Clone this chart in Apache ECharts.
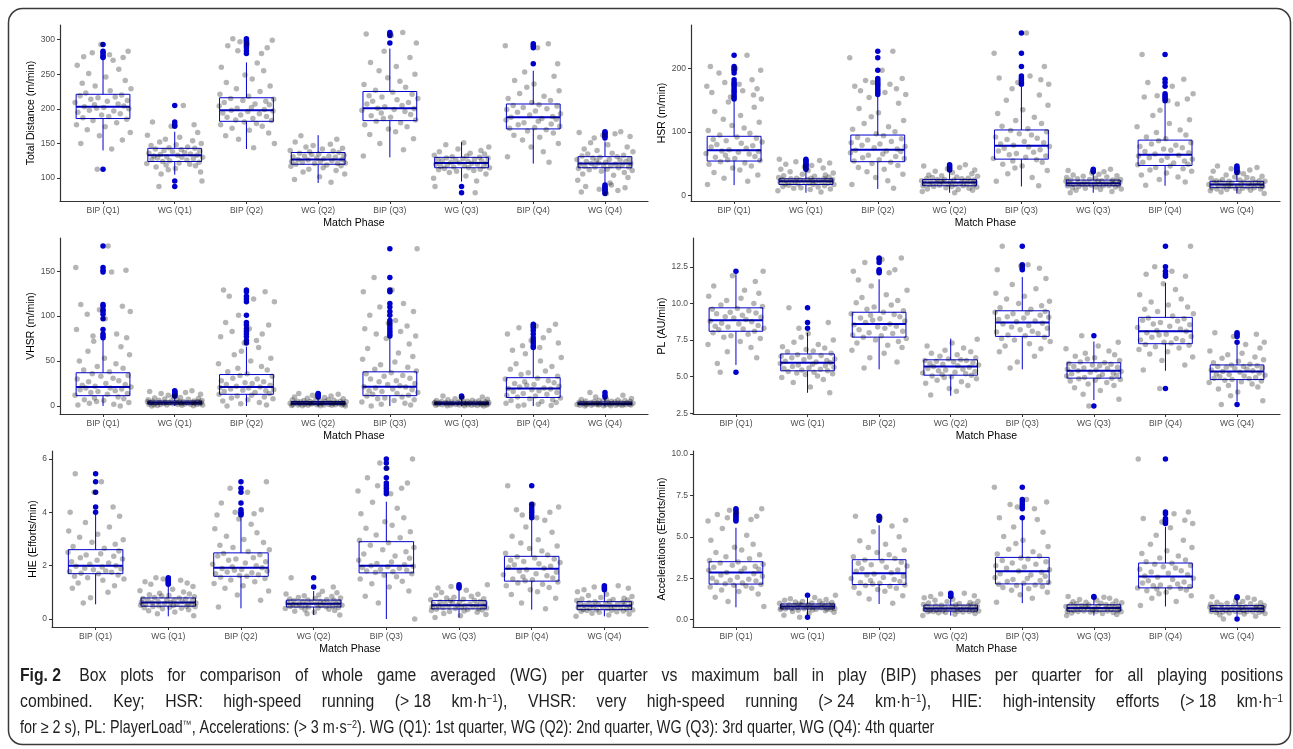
<!DOCTYPE html>
<html><head><meta charset="utf-8">
<script src="https://cdn.jsdelivr.net/npm/echarts@6/dist/echarts.min.js"></script>
<style>html,body{margin:0;padding:0;background:#fff}#c{width:1293px;height:749px}</style>
</head><body><div id="c"></div>
<script>
const cats = ['BIP (Q1)','WG (Q1)','BIP (Q2)','WG (Q2)','BIP (Q3)','WG (Q3)','BIP (Q4)','WG (Q4)'];
const jitter = [0.12,-0.31,0.27,-0.05,0.38,-0.22,0.03,-0.37,0.19,-0.14,0.33,-0.28,0.08,-0.02,0.24,-0.35,0.15,-0.19,0.36,-0.09,0.01,-0.26,0.29,-0.12,0.21,-0.39,0.06,0.34,-0.17,-0.07,0.17,-0.32,0.26,-0.24,0.10,0.39,-0.11,-0.29,0.31,0.04,-0.20,0.22,-0.36,0.14,-0.03,0.35,-0.15,0.09,-0.27,0.28,-0.08,0.18,-0.33,0.02,0.37,-0.21,0.25,-0.13,0.07,-0.38,0.32];

// Total distance (m/min): [lower whisker, Q1, median, Q3, upper whisker]
const tdBox = [[140,186,203,221,272],[105,124,133,143,167],[142,182,198,216,267],[93,120,127,137,162],[130,183,201,225,287],[95,115,122,130,152],[121,171,188,207,255],[93,115,121,131,153]];
const tdOut = [[293,283,281,278,275,274,113],[205,181,177,175,96,88],[301,299,297,294,291,288,284,280],[],[310,308,306,295],[88,79],[294,291,288,265],[167,166,164,162,160,158,90,88,86,84,82,80,78]];
const tdPts = [
[142,150,155,161,166,170,174,177,180,183,185,187,189,191,193,195,197,198,200,201,202,203,204,206,207,209,211,212,214,216,217,219,220,223,226,229,233,237,241,246,251,257,263,270],
[106,109,112,114,116,118,119,120,121,122,123,124,125,126,127,128,129,130,130,131,132,133,133,134,135,136,137,138,139,140,141,142,143,144,145,147,148,150,152,154,156,159,162,166],
[144,150,156,161,165,169,172,175,177,179,181,183,184,186,188,189,191,193,194,196,197,198,199,201,202,204,206,207,209,211,212,214,215,218,221,225,229,233,238,243,249,255,260,266],
[94,98,102,106,109,111,113,115,117,118,119,120,121,121,122,123,124,124,125,126,127,127,128,129,130,131,132,132,133,134,135,136,137,138,139,140,142,143,145,147,149,152,156,161],
[132,141,150,157,163,167,171,174,177,180,182,184,186,188,190,192,194,196,198,199,200,201,203,205,207,209,211,213,215,217,219,221,224,227,231,235,240,245,250,255,261,267,274,283],
[96,100,103,106,108,110,111,112,113,114,115,115,116,117,117,118,119,120,120,121,122,122,123,124,125,125,126,127,127,128,129,129,130,131,132,133,135,136,138,140,142,145,148,151],
[123,131,138,145,150,155,159,162,165,168,170,172,173,175,177,178,180,182,184,185,186,188,189,191,193,195,197,199,200,202,204,205,206,209,212,215,218,222,226,231,236,241,247,253],
[93,97,101,104,106,108,110,111,112,113,114,115,116,116,117,118,118,119,120,120,121,121,122,123,124,124,125,126,127,127,128,129,130,131,132,133,135,136,138,140,142,145,148,151]];

// HSR (m/min)
const hsrBox = [[16,54,71,93,150],[4,17,22,26,40],[10,53,72,95,157],[4,15,20,25,38],[14,57,78,103,171],[4,15,19,24,35],[15,47,64,87,147],[3,12,17,22,34]];
const hsrOut = [[221,203,200,197,193,182,178,175,172,168,165,162,158,155,152],[57,55,53,51,49,47,45,43,41],[227,217,197,184,181,178,175,172,168,165,162,159],[48,46,44,42,40],[256,224,203,188,185,182,178,175],[41,39,37],[222,183,178,172,160,157,155,152,149],[46,44,42,40,38,36]];
const hsrPts = [
[17,22,27,32,36,40,43,46,49,51,53,55,56,58,60,61,63,65,66,68,69,70,72,74,76,78,80,82,84,86,88,90,92,95,98,102,106,110,115,120,126,132,139,147],
[5,7,9,10,11,12,13,14,15,16,17,17,18,18,19,19,20,20,21,21,22,22,22,23,23,24,24,24,25,25,25,26,26,27,27,28,29,30,31,32,33,35,37,39],
[11,17,23,28,33,37,41,44,47,50,52,54,56,58,59,61,63,65,67,69,70,71,73,75,77,79,81,83,85,87,89,91,94,97,100,104,108,113,118,124,130,137,145,154],
[4,6,8,9,10,11,12,13,14,14,15,15,16,16,17,17,18,18,19,19,20,20,20,21,21,22,22,23,23,24,24,25,25,26,26,27,28,29,30,31,32,34,36,38],
[15,22,28,34,39,43,46,49,52,54,56,58,60,62,64,66,68,70,72,74,76,77,79,81,83,85,88,90,92,95,97,100,102,105,109,113,118,123,129,135,142,150,158,168],
[4,6,8,9,10,11,12,13,13,14,15,15,15,16,16,17,17,17,18,18,19,19,19,20,20,21,21,22,22,23,23,24,24,25,25,26,27,28,29,30,31,32,33,35],
[16,21,25,29,32,35,38,40,42,44,46,48,49,51,52,54,55,57,59,60,62,63,65,67,69,71,73,75,77,79,81,83,86,89,92,95,99,103,108,113,119,126,134,144],
[3,5,6,7,8,9,10,10,11,11,12,12,13,13,14,14,15,15,16,16,17,17,17,18,18,19,19,20,20,21,21,22,22,23,23,24,25,26,27,28,29,30,32,34]];

// VHSR (m/min)
const vhsrBox = [[0,11.5,21,37,74],[0,2,3.5,5.5,10.5],[0,13,21,35,66],[0,1.5,3,5,9.5],[0,11.5,21.5,38,77],[0,1.5,3,4.5,9],[0,9.5,19.5,31.5,63],[0,1.5,2.5,4.5,8.5]];
const vhsrOut = [[178,154,151,149,113,111,107,105,102,97,85,80,78,76],[17,16,15,14,13,12,11],[129,127,122,119,116,101,93,90,86,83,80,77,73,70],[14,13,12,11,10],[175,143,129,127,114,110,105,101,95,92,89,86,83,80,78],[11,10],[91,89,87,84,80,76,73,70,67,65],[15,12,10]];
const vhsrPts = [
[0,1,2,3,4,5,6,7,8,9,10,12,13,14,15,16,17,18,19,20,20,21,22,23,24,25,27,28,30,31,33,34,36,38,40,42,44,47,50,53,57,61,66,72],
[0,0.3,0.5,0.8,1,1.2,1.4,1.6,1.7,1.8,2,2,2.2,2.4,2.5,2.7,2.8,3,3.1,3.3,3.4,3.5,3.6,3.8,4,4.1,4.3,4.5,4.7,4.9,5.1,5.3,5.5,5.7,6,6.3,6.6,7,7.4,7.8,8.3,8.8,9.5,10.3],
[0,1,2.5,4,5.5,7,8,9,10,11,12,13,14,15,16,17,17.5,18,19,20,20.5,21,22,23,24,25,26,27,28,30,31,33,34,36,38,40,42,44,47,50,53,57,61,65],
[0,0.2,0.4,0.6,0.8,0.9,1,1.1,1.2,1.3,1.5,1.5,1.7,1.8,2,2.2,2.3,2.5,2.6,2.8,2.9,3,3.1,3.3,3.5,3.6,3.8,4,4.2,4.4,4.6,4.8,5,5.2,5.4,5.7,6,6.3,6.7,7,7.5,8,8.7,9.4],
[0,1,2,3,4.5,6,7,8,9,10,11,12,13,14,15,16,17,18,19,20,21,21.5,22.5,24,25,27,28,30,31,33,34,36,37,39,41,43,46,49,52,55,59,64,69,75],
[0,0.2,0.4,0.6,0.8,0.9,1,1.1,1.2,1.3,1.5,1.5,1.6,1.8,1.9,2.1,2.2,2.4,2.5,2.7,2.8,3,3.1,3.2,3.4,3.5,3.7,3.8,4,4.1,4.2,4.4,4.5,4.7,4.9,5.2,5.5,5.8,6.1,6.5,7,7.5,8.1,8.9],
[0,0.5,1,2,3,4,5,6,7,8,9,10,11,12,13,14,15,16,17,18,19,19.5,20,21,22,23,24,25,26,27,28,30,31,33,35,37,39,41,44,47,50,54,58,62],
[0,0.2,0.4,0.5,0.7,0.8,0.9,1,1.2,1.3,1.5,1.5,1.6,1.7,1.8,1.9,2,2.1,2.2,2.3,2.4,2.5,2.6,2.8,3,3.2,3.4,3.6,3.8,4,4.2,4.3,4.5,4.7,4.9,5.1,5.4,5.7,6,6.4,6.8,7.3,7.8,8.4]];

// PL (AU/min)
const plBox = [[5.8,8.1,8.85,9.7,12.0],[3.9,5.4,5.95,6.55,8.0],[5.5,7.7,8.6,9.4,11.65],[3.7,5.1,5.7,6.15,7.6],[5.5,7.75,8.7,9.5,11.8],[3.4,4.9,5.4,5.95,7.4],[5.4,7.25,8.1,9.05,11.4],[3.3,4.8,5.35,5.8,7.2]];
const plOut = [[12.2,5.3],[9.7,8.7,8.3],[13.1,13.0,12.8,12.3,12.2,12.1],[],[13.9,12.65,12.55,12.4,12.3],[7.8,3.0],[13.9,12.5,12.2,12.0,11.85,4.2],[8.0,7.9,7.75,7.35,3.1]];
const plPts = [
[5.9,6.3,6.7,7.0,7.2,7.4,7.6,7.7,7.8,7.9,8.0,8.1,8.2,8.25,8.3,8.4,8.45,8.5,8.6,8.65,8.75,8.8,8.9,9.0,9.05,9.1,9.2,9.3,9.35,9.4,9.5,9.6,9.65,9.8,9.9,10.0,10.2,10.35,10.5,10.7,10.9,11.2,11.5,11.9],
[3.9,4.3,4.6,4.8,4.95,5.05,5.15,5.2,5.25,5.3,5.35,5.4,5.45,5.5,5.55,5.6,5.65,5.7,5.75,5.8,5.85,5.9,5.95,6.0,6.05,6.1,6.15,6.2,6.3,6.35,6.4,6.45,6.5,6.6,6.7,6.75,6.85,6.95,7.05,7.2,7.35,7.5,7.7,7.95],
[5.6,6.0,6.3,6.6,6.8,7.0,7.15,7.3,7.4,7.5,7.6,7.7,7.8,7.85,7.95,8.0,8.1,8.2,8.3,8.4,8.45,8.55,8.6,8.7,8.8,8.85,8.95,9.0,9.1,9.2,9.25,9.3,9.4,9.5,9.6,9.75,9.9,10.05,10.2,10.4,10.6,10.9,11.2,11.6],
[3.75,4.0,4.2,4.4,4.55,4.65,4.75,4.85,4.95,5.0,5.05,5.1,5.15,5.2,5.25,5.3,5.35,5.4,5.45,5.5,5.55,5.65,5.7,5.75,5.8,5.85,5.9,5.95,6.0,6.05,6.1,6.1,6.15,6.2,6.3,6.4,6.5,6.6,6.7,6.8,6.95,7.1,7.3,7.55],
[5.6,6.0,6.4,6.7,6.9,7.1,7.25,7.4,7.5,7.6,7.7,7.8,7.85,7.95,8.05,8.1,8.2,8.3,8.4,8.5,8.6,8.65,8.75,8.8,8.9,9.0,9.05,9.1,9.2,9.3,9.35,9.4,9.45,9.6,9.7,9.85,10.0,10.15,10.3,10.5,10.7,11.0,11.3,11.7],
[3.45,3.8,4.05,4.25,4.4,4.5,4.6,4.7,4.75,4.8,4.85,4.9,4.95,5.0,5.05,5.1,5.15,5.2,5.25,5.3,5.35,5.4,5.45,5.5,5.55,5.6,5.65,5.7,5.75,5.8,5.85,5.9,5.95,6.0,6.1,6.2,6.3,6.4,6.5,6.6,6.75,6.9,7.1,7.35],
[5.45,5.8,6.1,6.35,6.55,6.7,6.85,6.95,7.05,7.15,7.2,7.3,7.35,7.45,7.5,7.6,7.7,7.75,7.85,7.9,8.0,8.1,8.15,8.25,8.35,8.45,8.55,8.6,8.7,8.8,8.85,8.95,9.0,9.15,9.3,9.45,9.6,9.75,9.9,10.1,10.3,10.6,10.95,11.35],
[3.35,3.7,3.95,4.15,4.3,4.4,4.5,4.6,4.65,4.7,4.75,4.8,4.85,4.9,4.95,5.0,5.05,5.1,5.15,5.2,5.25,5.3,5.35,5.4,5.45,5.5,5.55,5.6,5.65,5.7,5.7,5.75,5.8,5.85,5.95,6.05,6.15,6.25,6.35,6.5,6.6,6.75,6.95,7.2]];

// HIE (Efforts/min)
const hieBox = [[0.55,1.7,2.0,2.6,3.95],[0.1,0.48,0.62,0.79,1.25],[0.4,1.6,1.92,2.48,3.8],[0.15,0.45,0.57,0.71,1.05],[0,1.73,2.0,2.9,4.4],[0.05,0.38,0.52,0.69,1.1],[0.35,1.42,1.88,2.35,3.75],[0.1,0.35,0.5,0.65,1.05]];
const hieOut = [[5.45,5.15,4.75,4.2,4.0],[1.55,1.5,1.45,1.4,1.35,1.3],[5.15,4.9,4.75,4.35,4.1,4.0,3.95,3.9],[1.55,1.2],[6.0,5.85,5.65,5.3,5.1,5.0,4.9,4.8,4.7],[1.28,1.22,1.16],[5.0,4.3,4.2,4.1,4.0,3.9,3.8],[1.25,1.2,1.15,1.1]];
const hiePts = [
[0.6,0.8,1.0,1.15,1.25,1.35,1.45,1.5,1.55,1.6,1.65,1.7,1.72,1.75,1.78,1.8,1.85,1.88,1.9,1.95,1.98,2.0,2.05,2.1,2.15,2.2,2.25,2.3,2.35,2.4,2.45,2.5,2.55,2.65,2.72,2.8,2.88,2.97,3.07,3.18,3.3,3.45,3.62,3.85],
[0.12,0.2,0.26,0.31,0.35,0.38,0.4,0.42,0.44,0.46,0.47,0.48,0.5,0.51,0.52,0.53,0.55,0.56,0.57,0.58,0.6,0.61,0.62,0.63,0.65,0.66,0.68,0.7,0.71,0.73,0.75,0.77,0.79,0.81,0.83,0.86,0.88,0.91,0.94,0.97,1.01,1.06,1.12,1.22],
[0.45,0.7,0.9,1.05,1.15,1.25,1.33,1.4,1.46,1.52,1.57,1.6,1.63,1.66,1.7,1.73,1.76,1.8,1.83,1.86,1.89,1.92,1.96,2.0,2.05,2.1,2.15,2.2,2.25,2.3,2.36,2.41,2.46,2.53,2.6,2.68,2.77,2.87,2.98,3.1,3.23,3.38,3.55,3.75],
[0.15,0.2,0.25,0.29,0.32,0.35,0.37,0.39,0.41,0.43,0.44,0.45,0.46,0.47,0.48,0.5,0.51,0.52,0.53,0.54,0.55,0.56,0.57,0.58,0.6,0.61,0.62,0.64,0.65,0.67,0.68,0.7,0.71,0.73,0.75,0.77,0.79,0.81,0.84,0.87,0.9,0.94,0.98,1.04],
[0.0,0.6,0.85,1.05,1.2,1.32,1.42,1.5,1.58,1.64,1.7,1.74,1.77,1.8,1.83,1.86,1.9,1.93,1.96,1.98,2.0,2.03,2.08,2.14,2.2,2.28,2.36,2.44,2.52,2.6,2.68,2.77,2.86,2.95,3.05,3.15,3.27,3.4,3.52,3.65,3.8,3.95,4.15,4.38],
[0.06,0.12,0.17,0.21,0.25,0.28,0.3,0.32,0.34,0.36,0.37,0.38,0.39,0.41,0.42,0.43,0.45,0.46,0.47,0.49,0.5,0.51,0.52,0.53,0.55,0.56,0.58,0.59,0.61,0.63,0.64,0.66,0.68,0.7,0.72,0.74,0.76,0.79,0.82,0.85,0.89,0.93,0.99,1.08],
[0.38,0.6,0.78,0.92,1.02,1.1,1.18,1.25,1.3,1.35,1.39,1.43,1.47,1.5,1.54,1.58,1.62,1.66,1.7,1.75,1.8,1.85,1.9,1.94,1.98,2.03,2.07,2.12,2.16,2.2,2.25,2.29,2.33,2.4,2.47,2.55,2.64,2.74,2.85,2.97,3.1,3.25,3.45,3.7],
[0.1,0.15,0.19,0.22,0.25,0.27,0.29,0.3,0.32,0.33,0.34,0.35,0.36,0.37,0.39,0.4,0.41,0.43,0.44,0.46,0.47,0.49,0.5,0.51,0.53,0.54,0.56,0.57,0.58,0.6,0.61,0.63,0.65,0.67,0.69,0.71,0.73,0.75,0.78,0.81,0.84,0.88,0.93,1.02]];

// Accelerations (Efforts/min)
const accBox = [[0.75,2.15,2.85,3.5,5.55],[0.25,0.65,0.8,0.95,1.35],[0.95,2.12,2.8,3.62,5.7],[0.25,0.52,0.68,0.88,1.35],[1.0,2.16,2.92,3.76,6.1],[0.25,0.52,0.7,0.9,1.3],[0.8,1.92,2.6,3.42,5.6],[0.2,0.5,0.68,0.85,1.25]];
const accOut = [[6.7,6.6,6.45,6.35,6.25,6.15,6.05,5.95],[1.48,0.15],[6.25,6.15,6.0],[1.6,1.55,1.45,1.4],[8.0,7.25,7.1,6.95,6.8,6.7,6.15],[1.4,1.35],[9.7,6.5,6.4,6.1,6.0,5.9,5.8],[1.38,1.32,0.05]];
const accPts = [
[0.8,1.1,1.35,1.55,1.7,1.8,1.9,1.97,2.03,2.08,2.12,2.17,2.22,2.27,2.33,2.38,2.44,2.5,2.56,2.62,2.7,2.78,2.85,2.92,2.98,3.04,3.1,3.16,3.22,3.28,3.35,3.42,3.48,3.58,3.68,3.8,3.92,4.05,4.2,4.37,4.56,4.8,5.1,5.5],
[0.27,0.37,0.45,0.5,0.54,0.57,0.59,0.61,0.62,0.63,0.64,0.65,0.66,0.67,0.68,0.7,0.71,0.72,0.73,0.75,0.76,0.78,0.8,0.81,0.82,0.84,0.85,0.87,0.88,0.9,0.91,0.93,0.95,0.97,0.99,1.01,1.04,1.07,1.1,1.13,1.17,1.22,1.27,1.34],
[1.0,1.25,1.45,1.6,1.72,1.82,1.9,1.96,2.02,2.06,2.1,2.15,2.2,2.25,2.3,2.36,2.42,2.48,2.55,2.62,2.7,2.76,2.84,2.92,3.0,3.08,3.16,3.24,3.32,3.4,3.47,3.54,3.6,3.7,3.8,3.92,4.05,4.2,4.36,4.55,4.76,5.0,5.3,5.65],
[0.26,0.33,0.38,0.42,0.44,0.46,0.48,0.49,0.5,0.51,0.52,0.53,0.54,0.56,0.57,0.58,0.6,0.61,0.63,0.64,0.66,0.67,0.69,0.7,0.72,0.74,0.76,0.78,0.8,0.82,0.84,0.86,0.87,0.9,0.92,0.95,0.98,1.01,1.04,1.08,1.12,1.17,1.23,1.32],
[1.05,1.3,1.5,1.65,1.77,1.87,1.95,2.01,2.06,2.1,2.14,2.2,2.25,2.3,2.36,2.42,2.48,2.55,2.62,2.7,2.78,2.86,2.94,3.02,3.1,3.18,3.26,3.34,3.42,3.5,3.58,3.66,3.73,3.85,3.97,4.1,4.25,4.42,4.6,4.8,5.02,5.28,5.6,6.05],
[0.26,0.32,0.37,0.41,0.44,0.46,0.48,0.49,0.5,0.51,0.52,0.53,0.55,0.56,0.58,0.59,0.61,0.62,0.64,0.66,0.67,0.69,0.71,0.72,0.74,0.76,0.78,0.8,0.82,0.84,0.86,0.88,0.9,0.92,0.94,0.96,0.99,1.02,1.05,1.09,1.13,1.17,1.22,1.29],
[0.85,1.1,1.3,1.45,1.57,1.66,1.74,1.8,1.85,1.88,1.91,1.95,2.0,2.05,2.1,2.16,2.22,2.28,2.35,2.42,2.5,2.56,2.64,2.72,2.8,2.88,2.96,3.04,3.12,3.2,3.27,3.34,3.4,3.5,3.6,3.72,3.85,4.0,4.16,4.35,4.56,4.8,5.1,5.55],
[0.21,0.28,0.34,0.38,0.41,0.43,0.45,0.46,0.47,0.48,0.49,0.5,0.51,0.53,0.54,0.56,0.57,0.59,0.6,0.62,0.63,0.65,0.67,0.68,0.7,0.72,0.73,0.75,0.77,0.79,0.8,0.82,0.84,0.86,0.88,0.9,0.93,0.96,0.99,1.02,1.06,1.1,1.16,1.24]];

const yTicksTD = [100,150,200,250,300];
const yTicksHSR = [0,100,200];
const yTicksVHSR = [0,50,100,150];
const yTicksPL = [2.5,5,7.5,10,12.5];
const yTicksHIE = [0,2,4,6];
const yTicksACC = [0,2.5,5,7.5,10];

const panels = [
  {title:'Total Distance (m/min)', box:tdBox, out:tdOut, pts:tdPts, min:67, max:321, ticks:yTicksTD, dec:0, grid:{left:60,top:25,width:588,height:176}, gap:20},
  {title:'HSR (m/min)', box:hsrBox, out:hsrOut, pts:hsrPts, min:-9, max:268.5, ticks:yTicksHSR, dec:0, grid:{left:691,top:25,width:589,height:176}, gap:20},
  {title:'VHSR (m/min)', box:vhsrBox, out:vhsrOut, pts:vhsrPts, min:-8.9, max:186.9, ticks:yTicksVHSR, dec:0, grid:{left:60,top:238,width:588,height:176}, gap:20},
  {title:'PL (AU/min)', box:plBox, out:plOut, pts:plPts, min:2.45, max:14.47, ticks:yTicksPL, dec:1, grid:{left:693,top:238,width:587,height:176}, gap:23},
  {title:'HIE (Efforts/min)', box:hieBox, out:hieOut, pts:hiePts, min:-0.3, max:6.3, ticks:yTicksHIE, dec:0, grid:{left:52,top:451,width:596,height:176}, gap:13},
  {title:'Accelerations (Efforts/min)', box:accBox, out:accOut, pts:accPts, min:-0.44, max:10.18, ticks:yTicksACC, dec:1, grid:{left:693,top:451,width:587,height:176}, gap:22}
];

const BLUE = '#0000CD';
const AX = '#333333';
const catIdx = cats.map((c,i)=>i);

function renderBox(params, api){
  const x = api.value(0);
  const lo = api.coord([x, api.value(1)]);
  const q1 = api.coord([x, api.value(2)]);
  const md = api.coord([x, api.value(3)]);
  const q3 = api.coord([x, api.value(4)]);
  const hi = api.coord([x, api.value(5)]);
  const hw = api.size([0.75, 0])[0] / 2;
  const cx = lo[0];
  return {type:'group', children:[
    {type:'line', shape:{x1:cx,y1:hi[1],x2:cx,y2:q3[1]}, style:{stroke:BLUE,lineWidth:1}},
    {type:'line', shape:{x1:cx,y1:q1[1],x2:cx,y2:lo[1]}, style:{stroke:BLUE,lineWidth:1}},
    {type:'rect', shape:{x:cx-hw,y:q3[1],width:2*hw,height:q1[1]-q3[1]}, style:{stroke:BLUE,fill:'none',lineWidth:1}},
    {type:'line', shape:{x1:cx-hw,y1:md[1],x2:cx+hw,y2:md[1]}, style:{stroke:BLUE,lineWidth:2}}
  ]};
}

const grids=[], xAxes=[], yAxes=[], series=[];
panels.forEach((p, pi)=>{
  grids.push(Object.assign({containLabel:false}, p.grid));
  xAxes.push({type:'value', gridIndex:pi, min:-0.6, max:7.6,
    name:'Match Phase', nameLocation:'middle', nameGap:17,
    nameTextStyle:{color:'#000', fontSize:10.5, fontFamily:'Liberation Sans'},
    axisLine:{show:true, onZero:false, lineStyle:{color:AX, width:1.2}},
    axisTick:{show:true, length:3, customValues:catIdx, lineStyle:{color:AX}},
    axisLabel:{show:true, margin:5, customValues:catIdx, color:'#4d4d4d', fontSize:8.5, fontFamily:'Liberation Sans', formatter:v=>cats[Math.round(v)]},
    splitLine:{show:false}});
  yAxes.push({type:'value', gridIndex:pi, min:p.min, max:p.max,
    name:p.title, nameLocation:'middle', nameGap:p.gap, nameRotate:90,
    nameTextStyle:{color:'#000', fontSize:10.5, fontFamily:'Liberation Sans'},
    axisLine:{show:true, onZero:false, lineStyle:{color:AX, width:1.2}},
    axisTick:{show:true, length:3, customValues:p.ticks, lineStyle:{color:AX}},
    axisLabel:{show:true, margin:5, customValues:p.ticks, color:'#4d4d4d', fontSize:8.5, fontFamily:'Liberation Sans', formatter:v=>p.dec? v.toFixed(1): String(v)},
    splitLine:{show:false}});
  series.push({type:'custom', xAxisIndex:pi, yAxisIndex:pi, renderItem:renderBox, clip:false, silent:true, z:2,
    encode:{x:0, y:[1,2,3,4,5]}, data:p.box.map((b,k)=>[k].concat(b))});
  const outData = [];
  p.out.forEach((arr,k)=>arr.forEach(v=>outData.push([k,v])));
  series.push({type:'scatter', xAxisIndex:pi, yAxisIndex:pi, silent:true, z:3, symbolSize:5.5,
    itemStyle:{color:BLUE, opacity:1}, data:outData});
  const ptData = [];
  p.pts.forEach((arr,k)=>{
    arr.concat(p.out[k]).forEach((v,i)=>{
      ptData.push([k + jitter[(i + k*17 + pi*7) % jitter.length], v]);
    });
  });
  series.push({type:'scatter', xAxisIndex:pi, yAxisIndex:pi, silent:true, z:4, symbolSize:5.5,
    itemStyle:{color:'rgba(0,0,0,0.36)'}, large:false, progressive:0, data:ptData});
});

// Caption: lines 1-2 justified to the full width, line 3 left aligned
const capFont = '"Liberation Sans", Arial, sans-serif';
const CAP = 17.5, SUP = 11, CAPCOL = '#1f1f1f';
const capLines = [
  '{b|Fig.\u00a02}\u00a0 Box plots for comparison of whole game averaged (WG) per quarter vs maximum ball in play (BIP) phases per quarter for all playing positions',
  'combined. Key; HSR: high-speed running (>\u00a018 km·h{s|−1}), VHSR: very high-speed running (>\u00a024 km·h{s|−1}), HIE: high-intensity efforts (>\u00a018 km·h{s|−1}',
  'for ≥ 2 s), PL: PlayerLoad{s|™}, Accelerations: (> 3 m·s{s|−2}). WG (Q1): 1st quarter, WG (Q2): 2nd quarter, WG (Q3): 3rd quarter, WG (Q4): 4th quarter'
];
const capY = [676, 702, 728];
const capJustify = [true, true, false];
const capScale = [0.9, 0.9, 0.82];
const capRich = {b:{fontWeight:'bold', fontSize:CAP, fontFamily:capFont, fill:CAPCOL}, s:{fontSize:SUP, fontFamily:capFont, verticalAlign:'top', fill:CAPCOL}};
const mctx = document.createElement('canvas').getContext('2d');
function segs(word){
  const out=[]; const re=/\{(\w)\|([^}]*)\}|([^{]+)/g; let m;
  while((m=re.exec(word))){ if(m[1]) out.push({k:m[1],t:m[2]}); else out.push({k:'',t:m[3]}); }
  return out;
}
function fontOf(k){ return (k==='b'?'bold ':'normal ') + (k==='s'?SUP:CAP) + 'px ' + capFont; }
function wordWidth(word, sx){ return sx * segs(word).reduce((w,s)=>{ mctx.font=fontOf(s.k); return w+mctx.measureText(s.t).width; },0); }
function capText(t, x, y, sx){
  return {type:'text', silent:true, x:x, y:y, scaleX:sx, style:{text:t, fontSize:CAP, fontFamily:capFont, fill:CAPCOL, verticalAlign:'middle', align:'left', rich:capRich}};
}
const X0 = 20, X1 = 1283;
const capGraphics = [];
capLines.forEach((line,li)=>{
  const sx = capScale[li];
  if(!capJustify[li]){ capGraphics.push(capText(line, X0, capY[li], sx)); return; }
  const words = line.split(' ');
  const widths = words.map(w=>wordWidth(w, sx));
  const total = widths.reduce((a,b)=>a+b,0);
  const gap = (X1 - X0 - total) / (words.length - 1);
  let x = X0;
  words.forEach((w,wi)=>{ capGraphics.push(capText(w, x, capY[li], sx)); x += widths[wi] + gap; });
});

const graphic = [
  {type:'rect', silent:true, z:-1, shape:{x:8.5, y:8.5, width:1282, height:736, r:14}, style:{fill:'none', stroke:'#3a3a3a', lineWidth:1.5}}
].concat(capGraphics);

const chart = echarts.init(document.getElementById('c'), null, {renderer:'canvas'});
chart.setOption({animation:false, backgroundColor:'#fff', textStyle:{fontFamily:'Liberation Sans'},
  grid:grids, xAxis:xAxes, yAxis:yAxes, series:series, graphic:graphic});
</script></body></html>
